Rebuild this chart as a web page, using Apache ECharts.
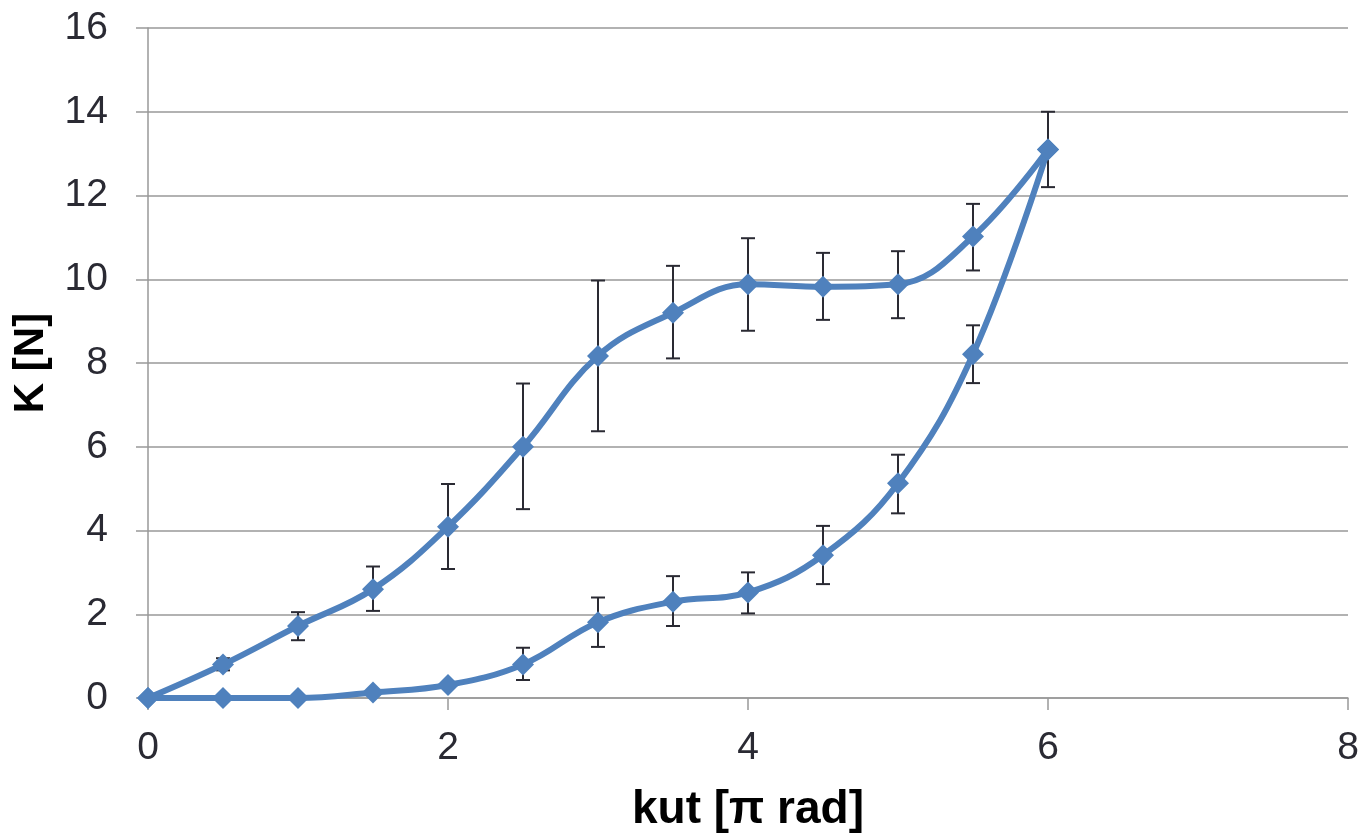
<!DOCTYPE html>
<html>
<head>
<meta charset="utf-8">
<script src="https://cdn.jsdelivr.net/npm/echarts@6/dist/echarts.min.js"></script>
<style>
  html, body { margin: 0; padding: 0; background: #fff; }
  #chart { width: 1364px; height: 833px; }
</style>
</head>
<body>
<div id="chart"></div>
<script>
// kut [π rad] vs K [N], loading and unloading branch
var angles = [0, 0.5, 1, 1.5, 2, 2.5, 3, 3.5, 4, 4.5, 5, 5.5, 6];
var loadK = [0, 0.8, 1.72, 2.6, 4.09, 6.0, 8.17, 9.2, 9.88, 9.82, 9.88, 11.02, 13.1];
var loadLow = [null, 0.66, 1.38, 2.08, 3.08, 4.51, 6.37, 8.11, 8.77, 9.03, 9.07, 10.21, 12.2];
var loadHigh = [null, 0.95, 2.05, 3.14, 5.11, 7.51, 9.97, 10.32, 10.98, 10.63, 10.67, 11.8, 14.0];

var unloadK = [0, 0, 0, 0.13, 0.31, 0.8, 1.81, 2.3, 2.52, 3.41, 5.13, 8.21, 13.1];
var unloadLow = [null, null, null, null, null, 0.43, 1.22, 1.72, 2.02, 2.72, 4.41, 7.52, null];
var unloadHigh = [null, null, null, null, null, 1.2, 2.4, 2.91, 3.0, 4.11, 5.81, 8.9, null];

var xTicks = [0, 2, 4, 6, 8];
var yTicks = [0, 2, 4, 6, 8, 10, 12, 14, 16];

var lineColor = '#4F81BD';
var barColor = '#2a2a33';
var fontFam = '"Liberation Sans", Arial, sans-serif';

function pairs(xs, ys) {
  return xs.map(function (x, i) { return [x, ys[i]]; });
}
function errRows(xs, lo, hi) {
  var out = [];
  xs.forEach(function (x, i) {
    if (lo[i] != null && hi[i] != null) out.push([x, lo[i], hi[i]]);
  });
  return out;
}

var errData = errRows(angles, loadLow, loadHigh).concat(errRows(angles, unloadLow, unloadHigh));

function renderErr(params, api) {
  var x = api.value(0);
  var lo = api.coord([x, api.value(1)]);
  var hi = api.coord([x, api.value(2)]);
  var w = 7;
  var st = { stroke: barColor, lineWidth: 2 };
  return {
    type: 'group',
    children: [
      { type: 'line', shape: { x1: lo[0], y1: lo[1], x2: hi[0], y2: hi[1] }, style: st },
      { type: 'line', shape: { x1: lo[0] - w, y1: lo[1], x2: lo[0] + w, y2: lo[1] }, style: st },
      { type: 'line', shape: { x1: hi[0] - w, y1: hi[1], x2: hi[0] + w, y2: hi[1] }, style: st }
    ]
  };
}

var chart = echarts.init(document.getElementById('chart'));
var options = {
  animation: false,
  grid: { left: 148, right: 16, top: 28, bottom: 135, outerBoundsMode: 'none' },
  xAxis: {
    type: 'value',
    min: xTicks[0],
    max: xTicks[xTicks.length - 1],
    interval: 2,
    name: 'kut [π rad]',
    nameLocation: 'middle',
    nameGap: 89,
    nameTextStyle: { fontFamily: fontFam, fontSize: 46, fontWeight: 'bold', color: '#000' },
    axisLine: { show: true, lineStyle: { color: '#999', width: 1.5 } },
    axisTick: { show: true, inside: false, length: 12, lineStyle: { color: '#999', width: 1.5 } },
    axisLabel: { fontFamily: fontFam, fontSize: 39, color: '#2a2a33', margin: 31 },
    splitLine: { show: false }
  },
  yAxis: {
    type: 'value',
    min: yTicks[0],
    max: yTicks[yTicks.length - 1],
    interval: 2,
    name: 'K [N]',
    nameLocation: 'middle',
    nameGap: 96,
    nameRotate: 90,
    nameTextStyle: { fontFamily: fontFam, fontSize: 42, fontWeight: 'bold', color: '#000' },
    axisLine: { show: true, lineStyle: { color: '#999', width: 1.5 } },
    axisTick: { show: true, inside: false, length: 12, lineStyle: { color: '#999', width: 1.5 } },
    axisLabel: { fontFamily: fontFam, fontSize: 39, color: '#2a2a33', margin: 40 },
    splitLine: { show: true, lineStyle: { color: '#999', width: 1.5 } }
  },
  series: [
    {
      type: 'custom',
      renderItem: renderErr,
      data: errData,
      z: 1,
      encode: { x: 0, y: [1, 2] }
    },
    {
      type: 'line',
      data: pairs(angles, loadK),
      smooth: 0.4,
      symbol: 'diamond',
      symbolSize: 22,
      lineStyle: { color: lineColor, width: 6 },
      itemStyle: { color: lineColor },
      z: 3
    },
    {
      type: 'line',
      data: pairs(angles, unloadK),
      smooth: 0.4,
      symbol: 'diamond',
      symbolSize: 22,
      lineStyle: { color: lineColor, width: 6 },
      itemStyle: { color: lineColor },
      z: 3
    }
  ]
};
chart.setOption(options);
window.addEventListener('resize', function () { chart.resize(); });
</script>
</body>
</html>
